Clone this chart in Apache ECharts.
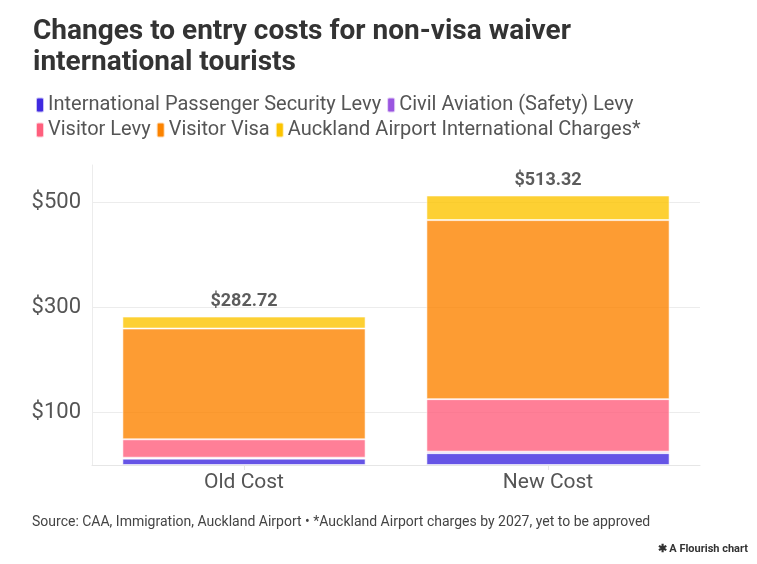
<!DOCTYPE html>
<html>
<head>
<meta charset="utf-8">
<script src="https://cdn.jsdelivr.net/npm/echarts@6/dist/echarts.min.js"></script>
<style>
html,body{margin:0;padding:0;background:#fff;}
#chart{width:757px;height:564px;}
</style>
</head>
<body>
<div id="chart"></div>
<script>
const categories = ['Old Cost', 'New Cost'];
const seriesNames = ['International Passenger Security Levy', 'Civil Aviation (Safety) Levy', 'Visitor Levy', 'Visitor Visa', 'Auckland Airport International Charges*'];
const securityLevy = [12.13, 22.58];
const civilAviationLevy = [1.79, 2.86];
const visitorLevy = [35, 100];
const visitorVisa = [211, 341];
const airportCharges = [22.80, 46.88];
const totals = [282.72, 513.32];
const yTicks = [100, 300, 500];
const colors = ['#402ae0', '#9a55e0', '#ff5f7d', '#fc8300', '#fcc400'];

const values = [securityLevy, civilAviationLevy, visitorLevy, visitorVisa, airportCharges];
const FONT = 'Roboto';

const series = seriesNames.map((name, i) => {
  const s = {
    name: name,
    type: 'bar',
    stack: 'total',
    barWidth: '80%',
    data: values[i],
    itemStyle: {
      color: colors[i],
      opacity: 0.8,
      borderColor: 'rgba(255,255,255,0.7)',
      borderWidth: 1
    },
    emphasis: {disabled: true}
  };
  if (i === values.length - 1) {
    s.label = {
      show: true,
      position: 'top',
      distance: 6,
      fontFamily: FONT,
      fontSize: 18,
      fontWeight: 'bold',
      color: '#333',
      formatter: p => '$' + totals[p.dataIndex].toFixed(2)
    };
  }
  return s;
});

const chart = echarts.init(document.getElementById('chart'), null, {renderer: 'canvas'});
chart.setOption({
  animation: false,
  backgroundColor: '#fff',
  textStyle: {fontFamily: FONT},
  title: {
    text: 'Changes to entry costs for non-visa waiver\ninternational tourists',
    left: 28,
    top: 11,
    textStyle: {fontFamily: FONT, fontSize: 28, fontWeight: 'bold', color: '#333', lineHeight: 31}
  },
  legend: {
    left: 30,
    top: 90,
    width: 660,
    itemWidth: 8,
    itemHeight: 15,
    itemGap: 5,
    icon: 'roundRect',
    selectedMode: false,
    itemStyle: {opacity: 1},
    textStyle: {fontFamily: FONT, fontSize: 20, color: '#555', padding: [0, 0, 0, -1]},
    data: seriesNames.map((n, i) => ({name: n, itemStyle: {color: colors[i], opacity: 1}}))
  },
  grid: {left: 92, right: 57, top: 165, bottom: 99, containLabel: false},
  xAxis: {
    type: 'category',
    data: categories,
    axisLine: {lineStyle: {color: '#e6e6e6'}},
    axisTick: {show: true, alignWithLabel: true, length: 5, lineStyle: {color: '#e6e6e6'}},
    axisLabel: {fontFamily: FONT, fontSize: 21, color: '#555', margin: 7}
  },
  yAxis: {
    type: 'value',
    min: 0,
    max: 571.4,
    interval: 100,
    axisLine: {show: true, lineStyle: {color: '#ececec'}},
    axisTick: {show: false},
    splitLine: {show: true, lineStyle: {color: ['rgba(0,0,0,0)', '#ececec']}},
    axisLabel: {
      fontFamily: FONT, fontSize: 22, color: '#555', margin: 11,
      showMaxLabel: false,
      formatter: v => yTicks.indexOf(v) >= 0 ? '$' + v : ''
    }
  },
  graphic: [
    {type: 'text', left: 32, top: 515, style: {text: 'Source: CAA, Immigration, Auckland Airport • *Auckland Airport charges by 2027, yet to be approved', fontFamily: FONT, fontSize: 14, fill: '#444'}},
    {type: 'text', right: 9, top: 544, style: {text: '✱ A Flourish chart', fontFamily: FONT, fontSize: 11, fontWeight: 'bold', fill: '#333'}}
  ],
  series: series
});
</script>
</body>
</html>
